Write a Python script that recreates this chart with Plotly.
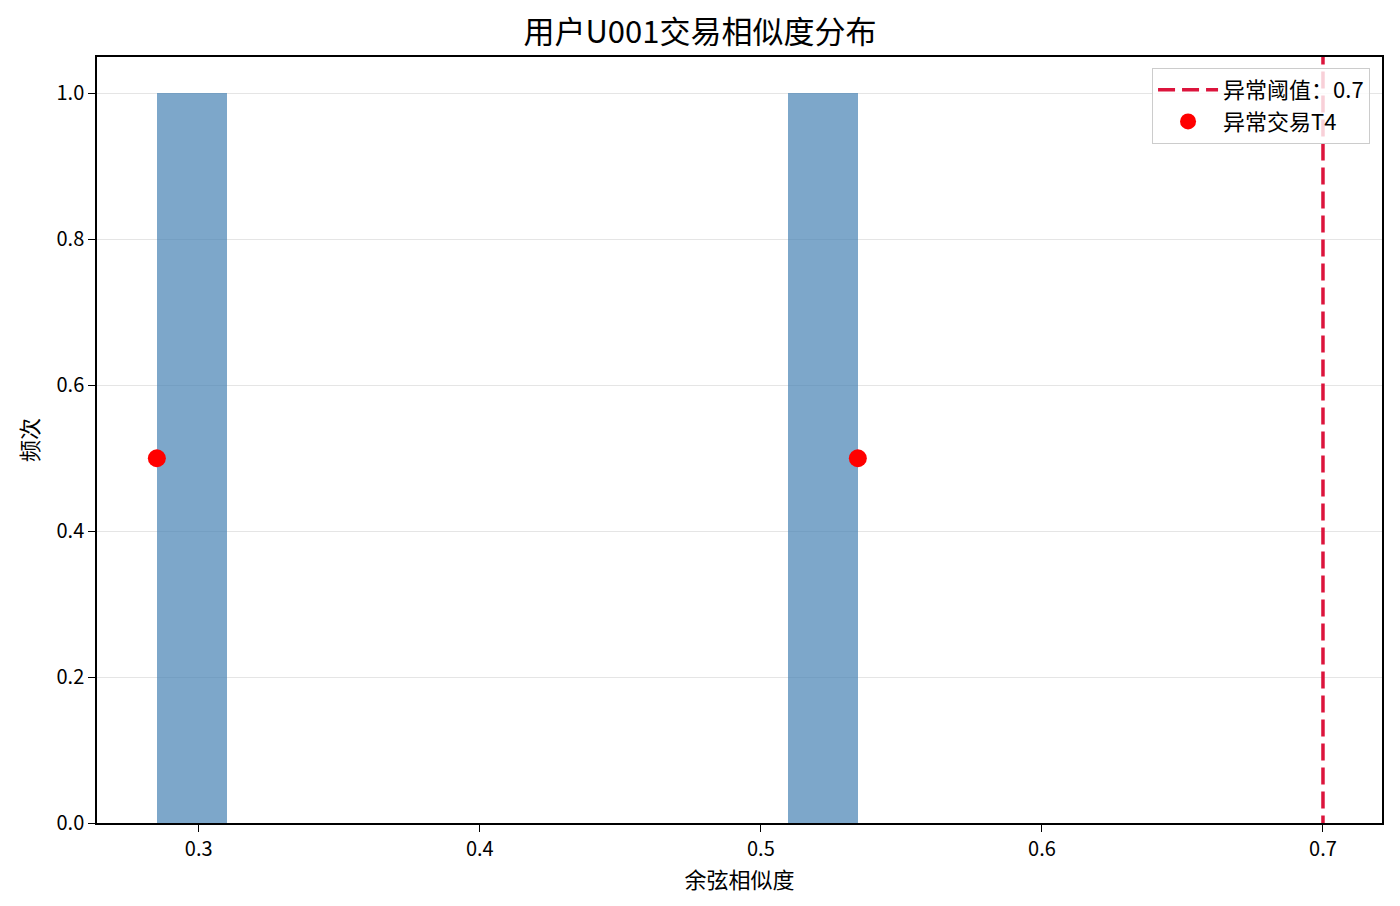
import numpy as np
import plotly.graph_objs as go

# 余弦相似度 values for user U001
similarities = [0.2851, 0.5345]
anomaly_x = [0.2851, 0.5345]
anomaly_y = [0.5, 0.5]
threshold = 0.7
n_bins = 10

counts, edges = np.histogram(similarities, bins=n_bins)
centers = (edges[:-1] + edges[1:]) / 2
width = edges[1] - edges[0]

font = "Noto Sans CJK SC, DejaVu Sans, sans-serif"

bars = go.Bar(
    x=centers,
    y=counts,
    width=width,
    marker=dict(color="rgba(70,130,180,0.7)", line=dict(width=0)),
    showlegend=False,
    hoverinfo="skip",
)
thr = go.Scatter(
    x=[threshold, threshold],
    y=[-1, 2],
    mode="lines",
    name=f"异常阈值：{threshold}",
    line=dict(color="crimson", width=3.5, dash="17px,7px"),
)
dots = go.Scatter(
    x=anomaly_x,
    y=anomaly_y,
    mode="markers",
    name="异常交易T4",
    marker=dict(color="red", size=18),
)

# page body adds 8px around the div, so margins are a bit smaller
layout = go.Layout(
    title=dict(text="用户U001交易相似度分布", x=0.5, xanchor="center",
               y=0.973, yanchor="middle",
               font=dict(size=31, color="black")),
    font=dict(family=font, size=20, color="black"),
    plot_bgcolor="white",
    paper_bgcolor="white",
    margin=dict(l=89, r=8, t=49, b=75),
    bargap=0,
    xaxis=dict(
        title=dict(text="余弦相似度", font=dict(size=22), standoff=8),
        range=[0.2638, 0.7210],
        tickvals=[0.3, 0.4, 0.5, 0.6, 0.7],
        ticktext=["0.3", "0.4", "0.5", "0.6", "0.7"],
        ticks="outside", ticklen=7, tickcolor="black",
        showline=True, linecolor="black", linewidth=1.5, mirror=True,
        showgrid=False, zeroline=False,
    ),
    yaxis=dict(
        title=dict(text="频次", font=dict(size=22), standoff=12),
        range=[0, 1.05],
        tickvals=[0, 0.2, 0.4, 0.6, 0.8, 1.0],
        ticktext=["0.0", "0.2", "0.4", "0.6", "0.8", "1.0"],
        ticks="outside", ticklen=7, tickcolor="black",
        showline=True, linecolor="black", linewidth=1.5, mirror=True,
        showgrid=True, gridcolor="rgba(0,0,0,0.1)", zeroline=False,
    ),
    legend=dict(
        x=0.9907, y=0.9856, xanchor="right", yanchor="top",
        bgcolor="rgba(255,255,255,0.8)", bordercolor="#cccccc", borderwidth=1,
        font=dict(size=22), itemwidth=60,
    ),
)

fig = go.Figure(data=[bars, thr, dots], layout=layout)
fig.write_html("out.html", default_width="100%", default_height="100%")
